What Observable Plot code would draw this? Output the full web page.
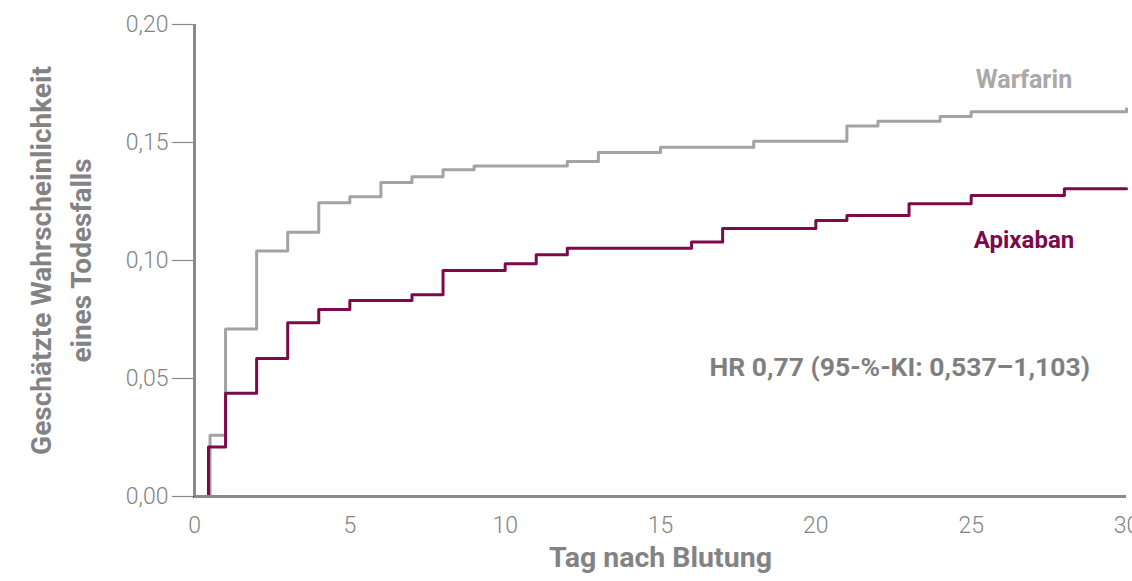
<!DOCTYPE html>
<html>
<head>
<meta charset="utf-8">
<script src="https://cdn.jsdelivr.net/npm/d3@7"></script>
<script src="https://cdn.jsdelivr.net/npm/@observablehq/plot@0.6"></script>
<style>
  html, body { margin: 0; padding: 0; background: #fff; overflow: hidden; }
  #chart svg { display: block; overflow: visible; }
</style>
</head>
<body>
<div id="chart"></div>
<script>
// Kaplan-Meier-like cumulative event curves (step functions)
const warfarinDays   = [0, 0.5, 1, 2, 3, 4, 5, 6, 7, 8, 9, 12, 13, 15, 18, 21, 22, 24, 25, 30];
const warfarinValues = [0, 0.026, 0.071, 0.104, 0.112, 0.1245, 0.127, 0.133, 0.1355, 0.1385, 0.140, 0.142, 0.1458, 0.148, 0.1505, 0.157, 0.159, 0.161, 0.163, 0.1643];

const apixabanDays   = [0, 0.45, 1, 2, 3, 4, 5, 7, 8, 10, 11, 12, 16, 17, 20, 21, 23, 25, 28, 30];
const apixabanValues = [0, 0.021, 0.0437, 0.0585, 0.0736, 0.0792, 0.0831, 0.0855, 0.0958, 0.0986, 0.1024, 0.1052, 0.1078, 0.1136, 0.1169, 0.1191, 0.124, 0.1275, 0.1304, 0.1304];

const xTicks = [0, 5, 10, 15, 20, 25, 30];
const yTicks = [0, 0.05, 0.10, 0.15, 0.20];

const seriesNames = ["Warfarin", "Apixaban"];
const hrText = "HR 0,77 (95-%-KI: 0,537–1,103)";
const yTitle = "Geschätzte Wahrscheinlichkeit\neines Todesfalls";
const xTitle = "Tag nach Blutung";

const warfarin = warfarinDays.map((d, i) => ({day: d, p: warfarinValues[i]}));
const apixaban = apixabanDays.map((d, i) => ({day: d, p: apixabanValues[i]}));

const GRAY_LINE = "#a3a3a3";
const PURPLE = "#7c0a4b";
const AXIS = "#8a8a8a";
const TEXT = "#838383";

const chart = Plot.plot({
  width: 1132,
  height: 581,
  marginLeft: 194,
  marginRight: 6,
  marginTop: 24,
  marginBottom: 85,
  style: {fontFamily: "Roboto, 'Open Sans', sans-serif", background: "#fff", overflow: "visible"},
  x: {domain: [0, 30]},
  y: {domain: [0, 0.2]},
  marks: [
    Plot.axisY({
      ticks: yTicks, tickSize: 22, tickPadding: 4,
      tickFormat: d => d.toFixed(2).replace(".", ","),
      fontSize: 23, fontWeight: 300, stroke: AXIS, color: TEXT, label: null, strokeWidth: 1.2
    }),
    Plot.axisX({
      ticks: xTicks, tickSize: 0, tickPadding: 20,
      fontSize: 23, fontWeight: 300, color: TEXT, label: null
    }),
    Plot.line(warfarin, {x: "day", y: "p", curve: "step-after", stroke: GRAY_LINE, strokeWidth: 3}),
    Plot.line(apixaban, {x: "day", y: "p", curve: "step-after", stroke: PURPLE, strokeWidth: 3}),
    Plot.ruleX([0], {stroke: AXIS, strokeWidth: 3}),
    Plot.ruleY([0], {stroke: AXIS, strokeWidth: 3}),
    Plot.text([seriesNames[0]], {x: 26.7, y: 0.1765, fill: "#a9a9a9", fontSize: 25, fontWeight: "bold"}),
    Plot.text([seriesNames[1]], {x: 26.7, y: 0.1085, fill: PURPLE, fontSize: 24, fontWeight: "bold"}),
    Plot.text([hrText], {x: 22.7, y: 0.0545, fill: "#7f7f7f", fontSize: 26.5, fontWeight: "bold"}),
    Plot.text([yTitle], {frameAnchor: "left", dx: -136, rotate: -90, textAnchor: "middle", lineAnchor: "middle", fill: TEXT, fontSize: 28, fontWeight: "bold", lineHeight: 1.4}),
    Plot.text([xTitle], {frameAnchor: "bottom", dy: 70, fill: TEXT, fontSize: 28.5, fontWeight: "bold"})
  ]
});
document.getElementById("chart").append(chart);
</script>
</body>
</html>
